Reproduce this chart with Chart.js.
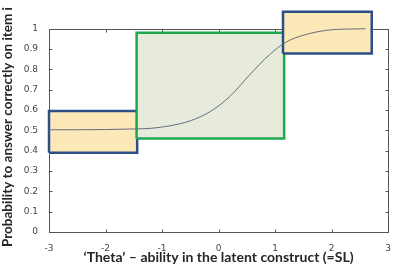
<!DOCTYPE html>
<html>
<head>
<meta charset="utf-8">
<script src="https://cdn.jsdelivr.net/npm/chart.js@4/dist/chart.umd.min.js"></script>
<style>
  html, body { margin: 0; padding: 0; background: #fff; }
  #wrap { width: 394px; height: 269px; }
</style>
</head>
<body>
<div id="wrap"><canvas id="irt"></canvas></div>
<script>
// item characteristic curve
const theta = [-3, -2.5, -2, -1.5, -1.2, -0.85, -0.5, -0.15, 0.2, 0.55, 0.9, 1.2, 1.5, 1.75, 2, 2.25, 2.6];
const prob = [0.503, 0.503, 0.504, 0.507, 0.51, 0.523, 0.547, 0.592, 0.667, 0.773, 0.872, 0.935, 0.968, 0.985, 0.995, 0.998, 1.0];

// boxes: [x from, x to] and [y from, y to]
const lowBoxX = [-3, -1.44];
const lowBoxY = [0.39, 0.595];
const midBoxX = [-1.45, 1.16];
const midBoxY = [0.46, 0.98];
const highBoxX = [1.14, 2.71];
const highBoxY = [0.878, 1.084];

const xTicks = [-3, -2, -1, 0, 1, 2, 3];
const yTicks = [0, 0.1, 0.2, 0.3, 0.4, 0.5, 0.6, 0.7, 0.8, 0.9, 1];

const xTitle = '\u2018Theta\u2019 \u2013 ability in the latent construct (=SL)';
const yTitle = 'Probability to answer correctly on item i';

function rect(xs, ys) {
  return [
    {x: xs[0], y: ys[0]}, {x: xs[1], y: ys[0]},
    {x: xs[1], y: ys[1]}, {x: xs[0], y: ys[1]},
    {x: xs[0], y: ys[0]}
  ];
}

const frame = {
  id: 'frame',
  beforeDatasetsDraw(chart) {
    const {ctx, scales: {x, y}} = chart;
    const l = Math.round(x.getPixelForValue(-3)) + 0.5;
    const r = Math.round(x.getPixelForValue(3)) + 0.5;
    const t = Math.round(y.getPixelForValue(1)) + 0.5;
    const b = Math.round(y.getPixelForValue(0)) + 0.5;
    ctx.save();
    ctx.strokeStyle = '#555';
    ctx.lineWidth = 1;
    ctx.strokeRect(l, t, r - l, b - t);
    ctx.beginPath();
    xTicks.forEach(v => {
      const px = Math.round(x.getPixelForValue(v)) + 0.5;
      ctx.moveTo(px, b); ctx.lineTo(px, b - 3);
      ctx.moveTo(px, t); ctx.lineTo(px, t + 3);
    });
    yTicks.forEach(v => {
      const py = Math.round(y.getPixelForValue(v)) + 0.5;
      ctx.moveTo(l, py); ctx.lineTo(l + 3, py);
      ctx.moveTo(r, py); ctx.lineTo(r - 3, py);
    });
    ctx.stroke();
    ctx.restore();
  },
  afterDraw(chart) {
    const ctx = chart.ctx;
    ctx.save();
    ctx.translate(8, 127);
    ctx.rotate(-Math.PI / 2);
    ctx.font = 'bold 13.5px Lato';
    ctx.fillStyle = '#262626';
    ctx.textAlign = 'center';
    ctx.textBaseline = 'middle';
    ctx.fillText(yTitle, 0, 0);
    ctx.restore();
  }
};

const boxStyle = (border, bg) => ({
  showLine: true,
  fill: 'shape',
  borderColor: border,
  backgroundColor: bg,
  borderWidth: 2.5,
  pointRadius: 0,
  tension: 0,
  clip: false
});

new Chart(document.getElementById('irt'), {
  type: 'scatter',
  data: {
    datasets: [
      {
        data: theta.map((t, i) => ({x: t, y: prob[i]})),
        showLine: true,
        borderColor: '#696c80',
        borderWidth: 1,
        pointRadius: 0,
        cubicInterpolationMode: 'monotone',
        fill: false
      },
      Object.assign({data: rect(highBoxX, highBoxY)}, boxStyle('#2d4f87', '#fde8b8')),
      Object.assign({data: rect(midBoxX, midBoxY)}, boxStyle('#1fa84f', '#e7ebdc')),
      Object.assign({data: rect(lowBoxX, lowBoxY)}, boxStyle('#2d4f87', '#fde8b8'))
    ]
  },
  options: {
    responsive: true,
    maintainAspectRatio: false,
    animation: false,
    layout: { padding: { top: 0, right: 4, left: 0, bottom: 0 } },
    plugins: { legend: { display: false }, tooltip: { enabled: false } },
    scales: {
      x: {
        type: 'linear',
        min: -3,
        max: 3,
        afterBuildTicks: s => { s.ticks = xTicks.map(v => ({value: v})); },
        grid: { display: false },
        border: { display: false },
        ticks: { color: '#444', font: { family: 'DejaVu Sans', size: 9 }, padding: 3, maxRotation: 0 },
        title: { display: true, text: xTitle, color: '#262626', font: { family: 'Lato', size: 14, weight: 'bold' }, padding: { top: 0, bottom: 3 } },
        afterFit: s => { s.height = 37; }
      },
      y: {
        min: 0,
        max: 1.1,
        afterBuildTicks: s => { s.ticks = yTicks.map(v => ({value: v})); },
        grid: { display: false },
        border: { display: false },
        ticks: {
          color: '#444',
          font: { family: 'DejaVu Sans', size: 9 },
          padding: 3,
          callback: v => String(Math.round(v * 10) / 10)
        },
        afterFit: s => { s.width = 49; }
      }
    }
  },
  plugins: [frame]
});
</script>
</body>
</html>
